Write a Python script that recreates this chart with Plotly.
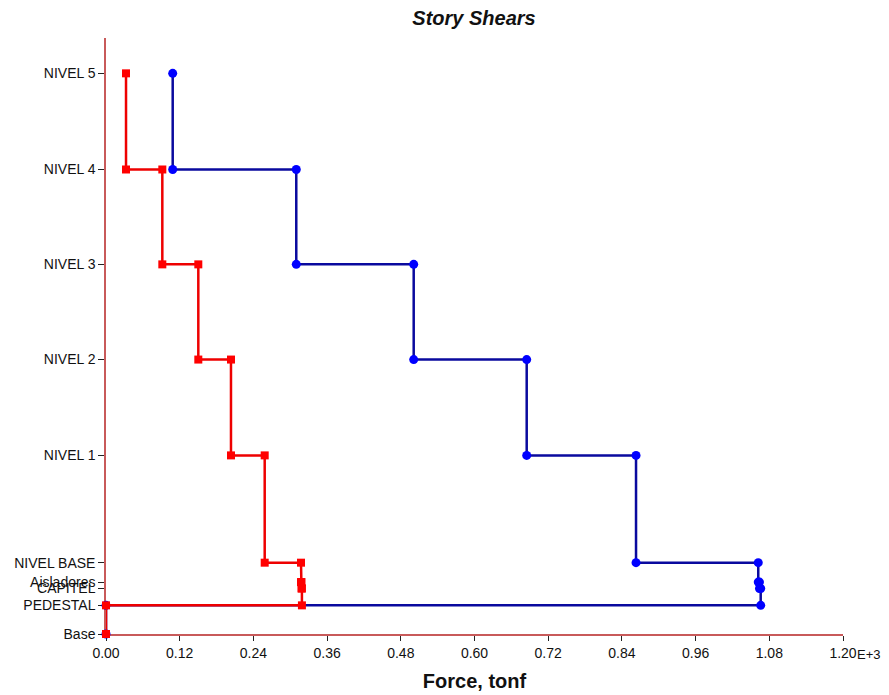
import plotly.graph_objects as go

# Levels from top to bottom with elevations (m)
level_names = ["NIVEL 5", "NIVEL 4", "NIVEL 3", "NIVEL 2", "NIVEL 1",
               "NIVEL BASE", "Aisladores", "CAPITEL", "PEDESTAL", "Base"]
level_elev = [17.61, 14.59, 11.61, 8.62, 5.61, 2.24, 1.63, 1.43, 0.90, 0.0]

# Story shears (tonf), one per story (between consecutive levels, top to bottom)
shear_x = [108.6, 309.8, 501.0, 685.0, 863.0, 1062.0, 1064.0, 1066.0, 0.0]
shear_y = [32.6, 91.7, 150.3, 203.5, 258.4, 317.5, 318.3, 319.0, 0.0]

x_tick_vals = [0, 120, 240, 360, 480, 600, 720, 840, 960, 1080, 1200]
x_tick_text = ["0.00", "0.12", "0.24", "0.36", "0.48", "0.60", "0.72",
               "0.84", "0.96", "1.08", "1.20"]


def step_path(shears):
    xs, ys = [], []
    for i, v in enumerate(shears):
        xs += [v, v]
        ys += [level_elev[i], level_elev[i + 1]]
    return xs, ys


fig = go.Figure()
bx, by = step_path(shear_x)
fig.add_trace(go.Scatter(
    x=bx, y=by, mode="lines+markers", cliponaxis=False,
    line=dict(color="#0A0A9E", width=2.5),
    marker=dict(symbol="circle", size=9, color="#0000FF"),
    showlegend=False))
rx, ry = step_path(shear_y)
fig.add_trace(go.Scatter(
    x=rx, y=ry, mode="lines+markers", cliponaxis=False,
    line=dict(color="#EE0000", width=2.5),
    marker=dict(symbol="square", size=8, color="#FF0000"),
    showlegend=False))

FONT = "Liberation Sans, Arial, sans-serif"
axis_font = dict(family=FONT, size=14, color="#111111")

fig.update_layout(
    width=881, height=687,
    margin=dict(l=98, r=46, t=30, b=61),
    paper_bgcolor="white", plot_bgcolor="white",
    title=dict(text="<b><i>Story Shears</i></b>", x=0.529, xanchor="center",
               y=0.985, yanchor="middle",
               font=dict(family=FONT, size=20, color="#111111")),
    xaxis=dict(range=[0, 1200], tickvals=x_tick_vals, ticktext=x_tick_text,
               showgrid=False, zeroline=False, showline=True, linecolor="#C85A5A",
               linewidth=1.5, ticks="outside", ticklen=5, tickcolor="#222222",
               tickfont=axis_font, layer="below traces", automargin=False,
               title=dict(text="<b>Force, tonf</b>", standoff=14,
                          font=dict(family=FONT, size=20, color="#111111"))),
    yaxis=dict(range=[0, 18.72], tickvals=level_elev, ticktext=level_names,
               showgrid=False, zeroline=False, showline=True, linecolor="#C85A5A",
               linewidth=1.5, ticks="outside", ticklen=6, tickcolor="#222222",
               tickfont=axis_font, layer="below traces", automargin=False),
)

fig.add_annotation(x=1200, y=0, xref="x", yref="paper", text="E+3",
                   showarrow=False, xanchor="left", yanchor="top",
                   xshift=12, yshift=-11,
                   font=dict(family=FONT, size=13, color="#111111"))

fig.write_html("out.html")
